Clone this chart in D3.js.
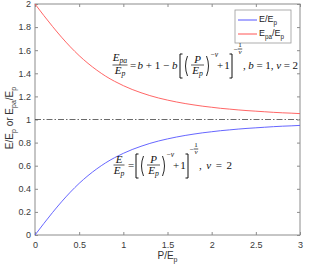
<!DOCTYPE html>
<html>
<head>
<meta charset="utf-8">
<script src="https://cdn.jsdelivr.net/npm/d3@7"></script>
<style>body{margin:0;background:#fff}</style>
</head>
<body>
<svg id="chart" width="320" height="274"></svg>
<script>
// values
const pRatio = [0,0.1,0.2,0.3,0.4,0.5,0.6,0.7,0.8,0.9,1,1.1,1.2,1.3,1.4,1.5,1.6,1.7,1.8,1.9,2,2.1,2.2,2.3,2.4,2.5,2.6,2.7,2.8,2.9,3];
const eRatio = [0,0.0995,0.196,0.287,0.371,0.447,0.514,0.573,0.625,0.669,0.707,0.740,0.768,0.793,0.814,0.832,0.848,0.862,0.874,0.885,0.894,0.903,0.910,0.917,0.923,0.928,0.933,0.938,0.942,0.945,0.949];
const epaRatio = [2,1.900,1.804,1.713,1.629,1.553,1.486,1.427,1.375,1.331,1.293,1.260,1.232,1.207,1.186,1.168,1.152,1.138,1.126,1.115,1.106,1.097,1.090,1.083,1.077,1.072,1.067,1.062,1.058,1.055,1.051];
const refLevel = 1;
const xTicks = [0,0.5,1,1.5,2,2.5,3];
const yTicks = [0,0.2,0.4,0.6,0.8,1,1.2,1.4,1.6,1.8,2];

const svg = d3.select("#chart");
const sans = "'Liberation Sans',Arial,sans-serif";
const serif = "'Liberation Serif','Times New Roman',serif";
const axisCol = "#8c8c8c";

let x = d3.scaleLinear().domain([0, 3]).range([35, 300]);
let y = d3.scaleLinear().domain([0, 2]).range([235, 4]);
let fmt = d => String(+d.toFixed(1));

// box
svg.append("rect")
    .attr("x", x(0)).attr("y", y(2))
    .attr("width", x(3) - x(0)).attr("height", y(0) - y(2))
    .style("fill", "none").style("stroke", axisCol).style("stroke-width", "1px");

function styleAxis(g, showText) {
    g.select(".domain").remove();
    g.selectAll(".tick line").style("stroke", axisCol);
    g.selectAll("text").style("font-family", sans).style("font-size", "9px").style("fill", "#3a3a3a");
    if (!showText) g.selectAll("text").remove();
}

svg.append("g").attr("transform", "translate(0," + y(0) + ")")
    .call(d3.axisBottom(x).tickValues(xTicks).tickFormat(fmt).tickSizeInner(-3).tickSizeOuter(0).tickPadding(7))
    .call(g => styleAxis(g, true));
svg.append("g").attr("transform", "translate(0," + y(2) + ")")
    .call(d3.axisTop(x).tickValues(xTicks).tickSizeInner(-3).tickSizeOuter(0))
    .call(g => styleAxis(g, false));
svg.append("g").attr("transform", "translate(" + x(0) + ",0)")
    .call(d3.axisLeft(y).tickValues(yTicks).tickFormat(fmt).tickSizeInner(-3).tickSizeOuter(0).tickPadding(4))
    .call(g => styleAxis(g, true));
svg.append("g").attr("transform", "translate(" + x(3) + ",0)")
    .call(d3.axisRight(y).tickValues(yTicks).tickSizeInner(-3).tickSizeOuter(0))
    .call(g => styleAxis(g, false));

// reference line
svg.append("line")
    .attr("x1", x(0)).attr("x2", x(3))
    .attr("y1", y(refLevel)).attr("y2", y(refLevel))
    .style("stroke", "#444").style("stroke-width", "0.8px")
    .style("stroke-dasharray", "6,2,1.5,2");

let line = d3.line()
    .x((d, i) => x(pRatio[i]))
    .y(d => y(d))
    .curve(d3.curveMonotoneX);

svg.append("path").datum(eRatio).attr("d", line)
    .style("fill", "none").style("stroke", "#5555ff").style("stroke-width", "0.9px");
svg.append("path").datum(epaRatio).attr("d", line)
    .style("fill", "none").style("stroke", "#ff5555").style("stroke-width", "0.9px");

// text with subscripts / italics
function rich(g, xx, yy, parts, opt) {
    let size = opt.size || 10;
    let drop = opt.drop != null ? opt.drop : 0.3;
    let t = g.append("text")
        .attr("x", xx).attr("y", yy)
        .attr("text-anchor", opt.anchor || "start")
        .style("font-family", opt.font || sans)
        .style("font-size", size + "px")
        .style("fill", opt.fill || "#222");
    if (opt.transform) t.attr("transform", opt.transform);
    if (opt.len) t.attr("textLength", opt.len).attr("lengthAdjust", "spacing");
    let down = 0;
    parts.forEach(p => {
        let s = t.append("tspan").text(p[0]);
        let f = p[1] || "";
        let sub = f.includes("s");
        if (f.includes("i")) s.style("font-style", "italic");
        if (sub) s.style("font-size", (size * 0.7) + "px");
        let target = sub ? size * drop : 0;
        if (target !== down) { s.attr("dy", target - down); down = target; }
    });
    return t;
}

// axis labels
rich(svg, x(1.5), 259, [["P/E"], ["p", "s"]], { anchor: "middle", size: 10, fill: "#333" });
rich(svg, 0, 0, [["E/E"], ["p", "s"], [" or E"], ["pa", "s"], ["/E"], ["p", "s"]],
    { anchor: "middle", size: 10, fill: "#333", transform: "translate(13,118) rotate(-90)" });

// legend
let leg = svg.append("g");
leg.append("rect").attr("x", 235).attr("y", 10).attr("width", 56).attr("height", 33)
    .style("fill", "#fff").style("stroke", "#9a9a9a").style("stroke-width", "0.8px");
leg.append("line").attr("x1", 238).attr("x2", 257).attr("y1", 20).attr("y2", 20)
    .style("stroke", "#5555ff").style("stroke-width", "1px");
leg.append("line").attr("x1", 238).attr("x2", 257).attr("y1", 34).attr("y2", 34)
    .style("stroke", "#ff5555").style("stroke-width", "1px");
rich(leg, 259, 22, [["E/E"], ["p", "s"]], { size: 9 });
rich(leg, 259, 36, [["E"], ["pa", "s"], ["/E"], ["p", "s"]], { size: 9 });

// equations
const fs = 11;
let eq = svg.append("g");
let mOpt = (a, s) => ({ anchor: a || "middle", size: s || fs, font: serif, fill: "#111", drop: 0.22 });

function frac(cx, barY, w, num, den, s) {
    s = s || fs;
    let hasSub = num.some(p => (p[1] || "").includes("s"));
    rich(eq, cx, barY - 2.5 - (hasSub ? 2 : 0), num, mOpt("middle", s));
    eq.append("line").attr("x1", cx - w / 2).attr("x2", cx + w / 2)
        .attr("y1", barY).attr("y2", barY).style("stroke", "#111").style("stroke-width", "0.7px");
    rich(eq, cx, barY + s * 0.78, den, mOpt("middle", s));
}
function bracket(xx, top, bot, dir) {
    eq.append("path")
        .attr("d", "M" + (xx + 2.5 * dir) + "," + top + "H" + xx + "V" + bot + "H" + (xx + 2.5 * dir))
        .style("fill", "none").style("stroke", "#111").style("stroke-width", "1px");
}
function paren(xx, top, bot, dir) {
    eq.append("path")
        .attr("d", "M" + (xx + 2 * dir) + "," + top + "Q" + (xx - 2 * dir) + "," + ((top + bot) / 2) + " " + (xx + 2 * dir) + "," + bot)
        .style("fill", "none").style("stroke", "#111").style("stroke-width", "0.9px");
}

function powerPart(x0, b) {
    // [ (P/E_p)^{-v} + 1 ]^{-1/v}
    bracket(x0, b - 11, b + 13, 1);
    paren(x0 + 5.5, b - 9, b + 11, 1);
    frac(x0 + 17.5, b, 13, [["P", "i"]], [["E", "i"], ["p", "is"]]);
    paren(x0 + 28.5, b - 9, b + 11, -1);
    rich(eq, x0 + 30.5, b - 8, [["−"], ["v", "i"]], mOpt("start", 7.5));
    rich(eq, x0 + 40, b + 3.5, [["+"]], mOpt("middle"));
    rich(eq, x0 + 47, b + 3.5, [["1"]], mOpt("middle"));
    bracket(x0 + 52, b - 11, b + 13, -1);
    rich(eq, x0 + 53.5, b - 13.5, [["−"]], mOpt("start", 7.5));
    frac(x0 + 60, b - 16, 4.5, [["1"]], [["v", "i"]], 7);
}

// red curve equation
let b1 = 65;
frac(120, b1, 15, [["E", "i"], ["pa", "is"]], [["E", "i"], ["p", "is"]]);
rich(eq, 133, b1 + 3.5, [["="]], mOpt());
rich(eq, 137.5, b1 + 3.5, [["b", "i"], [" + 1 − "], ["b", "i"]], Object.assign(mOpt("start"), { len: 40 }));
powerPart(180, b1);
rich(eq, 243, b1 + 3.5, [[", "], ["b", "i"], [" = 1, "], ["v", "i"], [" = 2"]], Object.assign(mOpt("start"), { len: 55 }));

// blue curve equation
let b2 = 165;
frac(119, b2, 11, [["E", "i"]], [["E", "i"], ["p", "is"]]);
rich(eq, 131, b2 + 3.5, [["="]], mOpt());
powerPart(136, b2);
rich(eq, 199, b2 + 3.5, [[", "], ["v", "i"], [" = 2"]], Object.assign(mOpt("start"), { len: 33 }));
</script>
</body>
</html>
